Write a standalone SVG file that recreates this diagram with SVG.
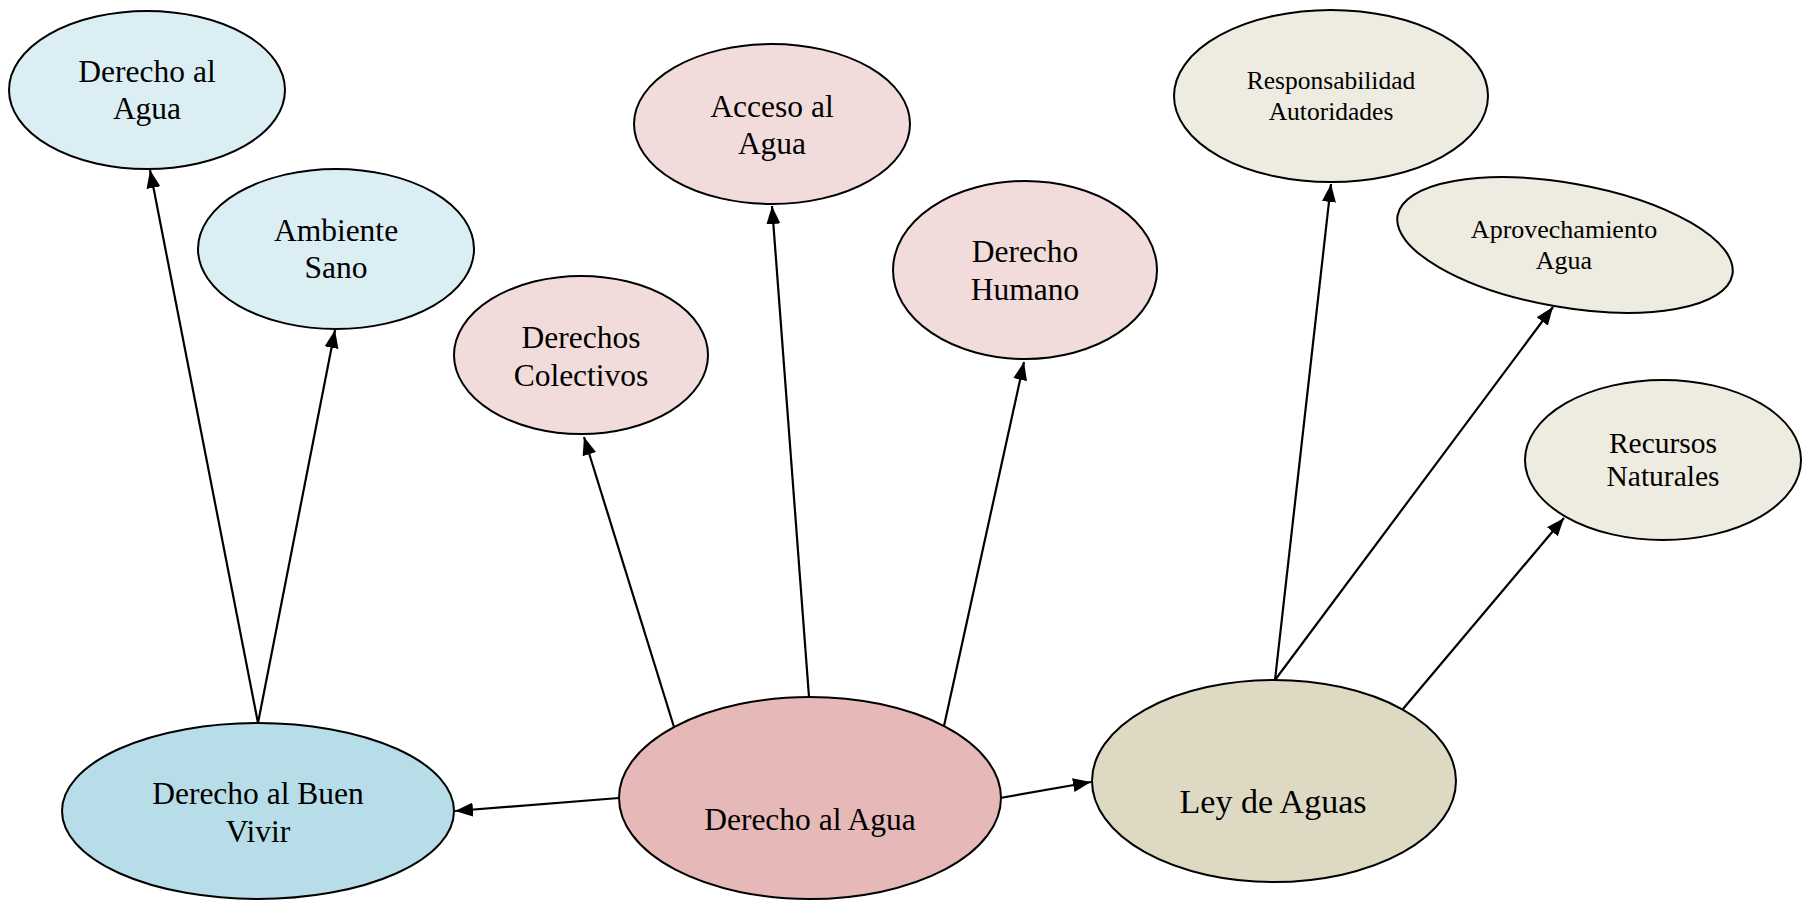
<svg xmlns="http://www.w3.org/2000/svg" width="1803" height="900" viewBox="0 0 1803 900">
  <style>
    .node { stroke: #000; stroke-width: 2; }
    .blue1 { fill: #DAEEF3; }
    .blue2 { fill: #B7DDE8; }
    .pink1 { fill: #F2DCDB; }
    .pink2 { fill: #E6B9B8; }
    .beige1 { fill: #EEECE1; }
    .beige2 { fill: #DDD9C3; }
    text { font-family: "Liberation Serif", "Times New Roman", serif; fill: #000; text-anchor: middle; }
    .t { font-size: 31.5px; }
    .s { font-size: 25.5px; }
    .m { font-size: 29.5px; }
    .l { font-size: 34px; }
    .conn line { stroke: #000; stroke-width: 2.2; fill: none; marker-end: url(#arrow); }
  </style>
  <defs>
    <marker id="arrow" markerUnits="userSpaceOnUse" markerWidth="18" markerHeight="14" refX="18" refY="7" orient="auto">
      <path d="M0,0 L18,7 L0,14 z" fill="#000"/>
    </marker>
  </defs>
  <rect width="1803" height="900" fill="#fff"/>

  <g id="n-derecho-agua-top">
    <ellipse class="node blue1" cx="147" cy="90" rx="138" ry="79"/>
    <text class="t" x="147" y="82">Derecho al</text>
    <text class="t" x="147" y="119">Agua</text>
  </g>
  <g id="n-ambiente-sano">
    <ellipse class="node blue1" cx="336" cy="249" rx="138" ry="80"/>
    <text class="t" x="336" y="241">Ambiente</text>
    <text class="t" x="336" y="278">Sano</text>
  </g>
  <g id="n-derechos-colectivos">
    <ellipse class="node pink1" cx="581" cy="355" rx="127" ry="79"/>
    <text class="t" x="581" y="348">Derechos</text>
    <text class="t" x="581" y="386">Colectivos</text>
  </g>
  <g id="n-acceso-agua">
    <ellipse class="node pink1" cx="772" cy="124" rx="138" ry="80"/>
    <text class="t" x="772" y="117">Acceso al</text>
    <text class="t" x="772" y="154">Agua</text>
  </g>
  <g id="n-derecho-humano">
    <ellipse class="node pink1" cx="1025" cy="270" rx="132" ry="89"/>
    <text class="t" x="1025" y="262">Derecho</text>
    <text class="t" x="1025" y="300">Humano</text>
  </g>
  <g id="n-responsabilidad">
    <ellipse class="node beige1" cx="1331" cy="96" rx="157" ry="86"/>
    <text class="s" x="1331" y="89">Responsabilidad</text>
    <text class="s" x="1331" y="120">Autoridades</text>
  </g>
  <g id="n-aprovechamiento">
    <ellipse class="node beige1" cx="1565" cy="245" rx="170" ry="62" transform="rotate(10 1565 245)"/>
    <text class="s" x="1564" y="238" style="font-size:26px">Aprovechamiento</text>
    <text class="s" x="1564" y="269" style="font-size:26px">Agua</text>
  </g>
  <g id="n-recursos">
    <ellipse class="node beige1" cx="1663" cy="460" rx="138" ry="80"/>
    <text class="m" x="1663" y="453">Recursos</text>
    <text class="m" x="1663" y="486">Naturales</text>
  </g>
  <g id="n-buen-vivir">
    <ellipse class="node blue2" cx="258" cy="811" rx="196" ry="88"/>
    <text class="t" x="258" y="804">Derecho al Buen</text>
    <text class="t" x="258" y="842">Vivir</text>
  </g>
  <g id="n-derecho-agua">
    <ellipse class="node pink2" cx="810" cy="798" rx="191" ry="101"/>
    <text class="t" x="810" y="830">Derecho al Agua</text>
  </g>
  <g id="n-ley-aguas">
    <ellipse class="node beige2" cx="1274" cy="781" rx="182" ry="101"/>
    <text class="l" x="1273" y="813">Ley de Aguas</text>
  </g>

  <g id="connectors" class="conn">
    <line x1="258" y1="723" x2="150" y2="170"/>
    <line x1="258" y1="723" x2="335" y2="330"/>
    <line x1="674" y1="727" x2="584" y2="437"/>
    <line x1="809" y1="697" x2="772" y2="206"/>
    <line x1="944" y1="726" x2="1024" y2="362"/>
    <line x1="619" y1="798" x2="455" y2="811"/>
    <line x1="1000" y1="798" x2="1091" y2="782"/>
    <line x1="1275" y1="680" x2="1331" y2="184"/>
    <line x1="1275" y1="680" x2="1553" y2="307"/>
    <line x1="1403" y1="709" x2="1564" y2="518"/>
  </g>
</svg>
